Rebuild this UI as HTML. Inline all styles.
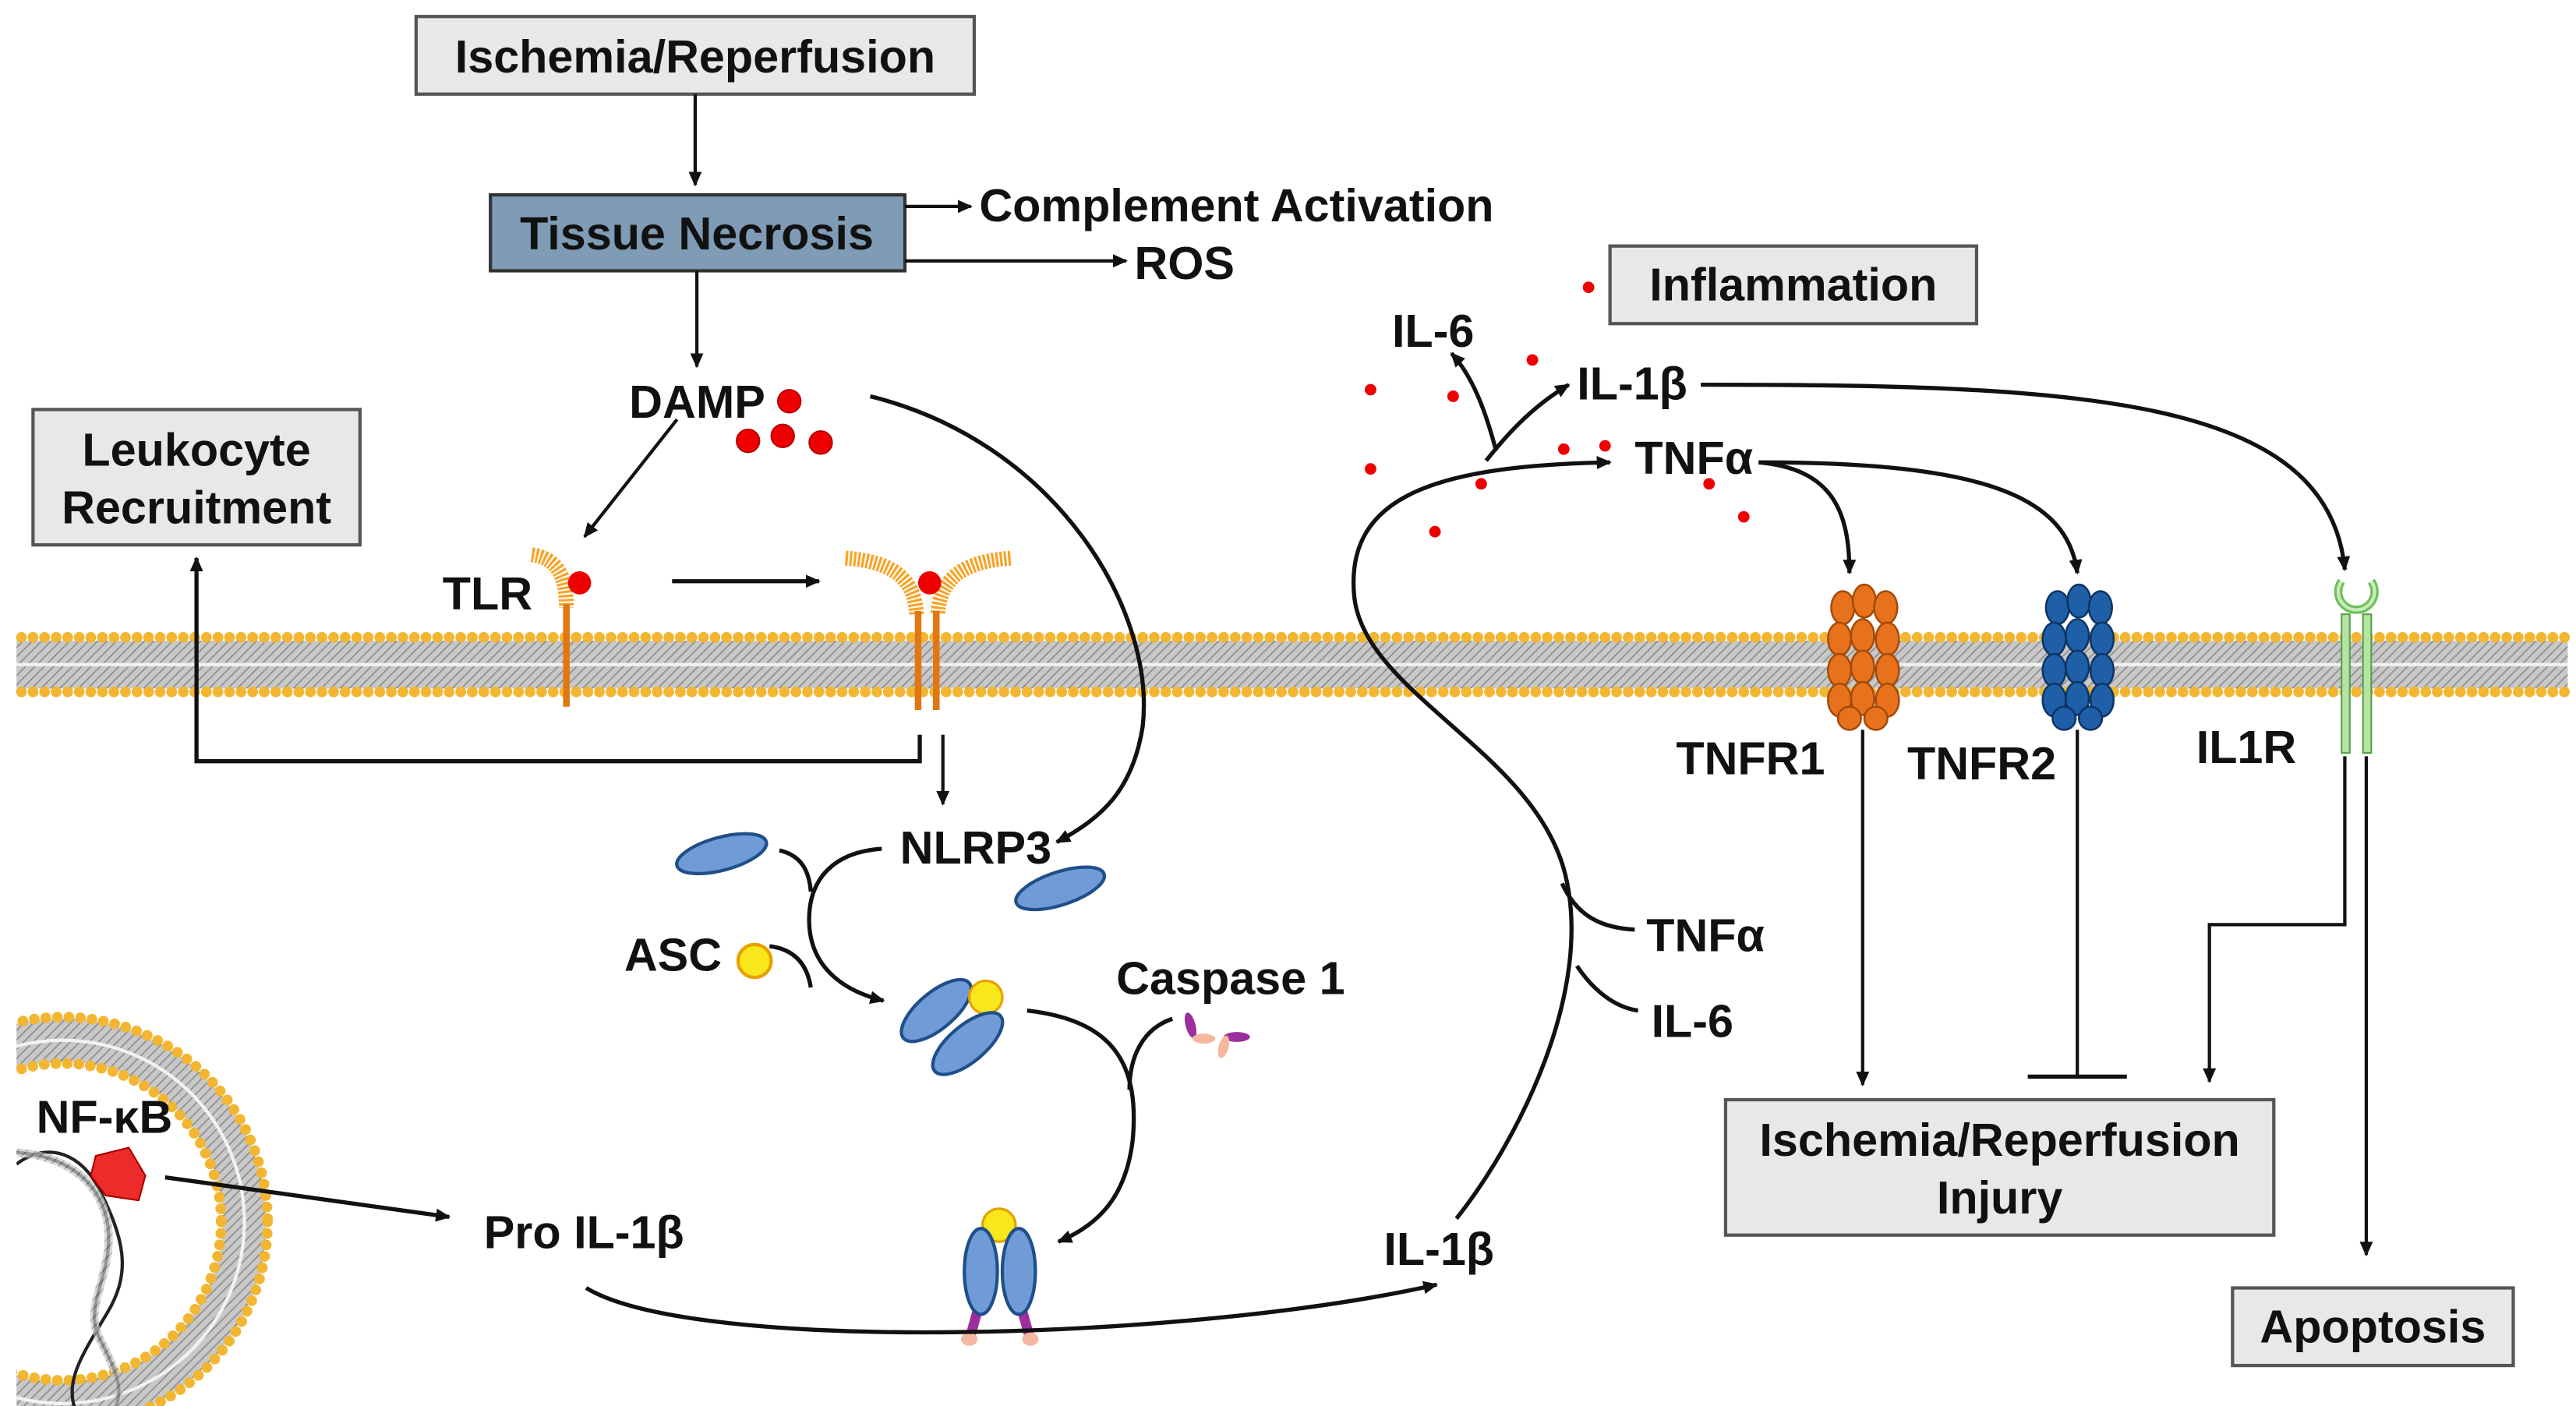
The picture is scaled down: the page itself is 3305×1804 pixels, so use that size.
<!DOCTYPE html>
<html><head><meta charset="utf-8"><style>
html,body{margin:0;padding:0;background:#fff;}
svg{display:block;}
text{font-family:"Liberation Sans",Arial,sans-serif;font-weight:bold;font-size:28px;fill:#111;}
</style></head><body>
<svg width="3305" height="1804" viewBox="0 0 1560 851.5" preserveAspectRatio="none" xmlns="http://www.w3.org/2000/svg">
<defs>
<marker id="ah" markerWidth="10" markerHeight="10" refX="8" refY="5" orient="auto" markerUnits="userSpaceOnUse"><path d="M0,1 L9,5 L0,9 Z" fill="#111"/></marker>
<pattern id="hatch" width="4" height="4" patternUnits="userSpaceOnUse" patternTransform="rotate(45)">
<rect width="4" height="4" fill="#c8c8c8"/><line x1="0" y1="0" x2="0" y2="4" stroke="#8a8a8a" stroke-width="1.5"/>
</pattern>
<clipPath id="nclip"><rect x="10" y="600" width="300" height="252"/></clipPath>
</defs>
<rect width="1560" height="852" fill="#fff"/>

<!-- membrane -->
<rect x="10" y="388" width="1545" height="29" fill="url(#hatch)"/>
<line x1="10" y1="402.5" x2="1555" y2="402.5" stroke="#f2f2f2" stroke-width="2"/>
<line x1="13" y1="386" x2="1555" y2="386" stroke="#f2b632" stroke-width="6.5" stroke-dasharray="0 7" stroke-linecap="round"/>
<line x1="13" y1="419" x2="1555" y2="419" stroke="#f2b632" stroke-width="6.5" stroke-dasharray="0 7" stroke-linecap="round"/>

<!-- nucleus -->
<g clip-path="url(#nclip)">
<circle cx="38" cy="740" r="110" fill="none" stroke="url(#hatch)" stroke-width="26"/>
<circle cx="38" cy="740" r="110" fill="none" stroke="#f2f2f2" stroke-width="2"/>
<circle cx="38" cy="740" r="124" fill="none" stroke="#f2b632" stroke-width="6.5" stroke-dasharray="0 7" stroke-linecap="round"/>
<circle cx="38" cy="740" r="96" fill="none" stroke="#f2b632" stroke-width="6.5" stroke-dasharray="0 7" stroke-linecap="round"/>
<path d="M10,698 C40,700 60,715 65,740 C70,770 50,790 60,810 C70,830 75,840 70,852" fill="none" stroke="#222" stroke-width="2"/>
<path d="M10,705 C30,690 50,700 60,720 C75,750 80,770 65,795 C50,820 40,835 45,852" fill="none" stroke="#222" stroke-width="2"/>
<path d="M10,698 C40,700 60,715 65,740 C70,770 50,790 60,810 C70,830 75,840 70,852" fill="none" stroke="url(#hatch)" stroke-width="5" opacity="0.7"/>
</g>
<polygon points="58,700 78,695 88,712 84,727 64,724 55,712" fill="#ee2b2b" stroke="#a00" stroke-width="1"/>
<text x="22" y="686">NF-κB</text>
<line x1="100" y1="713" x2="272" y2="737" stroke="#111" stroke-width="2.5" marker-end="url(#ah)"/>
<text x="293" y="756">Pro IL-1β</text>

<!-- boxes top -->
<rect x="252" y="10" width="338" height="47" fill="#e8e8e8" stroke="#555" stroke-width="2"/>
<text x="421" y="44" text-anchor="middle">Ischemia/Reperfusion</text>
<line x1="421" y1="57" x2="421" y2="112" stroke="#111" stroke-width="2" marker-end="url(#ah)"/>
<rect x="297" y="118" width="251" height="46" fill="#7f9bb5" stroke="#333" stroke-width="2"/>
<text x="422" y="151" text-anchor="middle">Tissue Necrosis</text>
<line x1="548" y1="125" x2="588" y2="125" stroke="#111" stroke-width="2" marker-end="url(#ah)"/>
<text x="593" y="134">Complement Activation</text>
<line x1="548" y1="158" x2="682" y2="158" stroke="#111" stroke-width="2" marker-end="url(#ah)"/>
<text x="687" y="169">ROS</text>
<line x1="422" y1="164" x2="422" y2="222" stroke="#111" stroke-width="2" marker-end="url(#ah)"/>

<text x="381" y="253">DAMP</text>
<g fill="#e00" stroke="#a00" stroke-width="0.8">
<circle cx="478" cy="243" r="7"/><circle cx="453" cy="267" r="7"/><circle cx="474" cy="264" r="7"/><circle cx="497" cy="268" r="7"/>
</g>
<line x1="410" y1="254" x2="354" y2="325" stroke="#111" stroke-width="2" marker-end="url(#ah)"/>

<rect x="20" y="248" width="198" height="82" fill="#e8e8e8" stroke="#555" stroke-width="2"/>
<text x="119" y="282" text-anchor="middle">Leukocyte</text>
<text x="119" y="317" text-anchor="middle">Recruitment</text>

<!-- TLR -->
<text x="268" y="369">TLR</text>
<path d="M322,336 C338,338 343,350 343,368" fill="none" stroke="#f7a428" stroke-width="9" stroke-dasharray="1.5 1"/>
<line x1="343" y1="366" x2="343" y2="428" stroke="#e07712" stroke-width="4"/>
<circle cx="351" cy="353" r="7" fill="#e00"/>
<line x1="407" y1="352" x2="496" y2="352" stroke="#111" stroke-width="2.5" marker-end="url(#ah)"/>
<path d="M512,338 C540,340 554,350 555,372" fill="none" stroke="#f7a428" stroke-width="9" stroke-dasharray="1.5 1"/>
<path d="M612,338 C584,340 569,350 568,372" fill="none" stroke="#f7a428" stroke-width="9" stroke-dasharray="1.5 1"/>
<line x1="556" y1="370" x2="556" y2="430" stroke="#e07712" stroke-width="4"/>
<line x1="567" y1="370" x2="567" y2="430" stroke="#e07712" stroke-width="4"/>
<circle cx="563" cy="353" r="7" fill="#e00"/>

<polyline points="557,445 557,461 119,461 119,338" fill="none" stroke="#111" stroke-width="2.5" marker-end="url(#ah)"/>
<line x1="571" y1="445" x2="571" y2="487" stroke="#111" stroke-width="2" marker-end="url(#ah)"/>
<path d="M527,240 C640,268 700,370 692,440 C686,478 668,495 640,510" fill="none" stroke="#111" stroke-width="2.5" marker-end="url(#ah)"/>

<text x="545" y="523">NLRP3</text>
<ellipse cx="437" cy="517" rx="28" ry="10" transform="rotate(-15 437 517)" fill="#6f9bd6" stroke="#1f4f8a" stroke-width="2"/>
<ellipse cx="642" cy="538" rx="28" ry="10" transform="rotate(-18 642 538)" fill="#6f9bd6" stroke="#1f4f8a" stroke-width="2"/>
<path d="M472,515 C485,518 490,527 491,540" fill="none" stroke="#111" stroke-width="2.5"/>
<path d="M534,514 C505,516 490,532 490,557 C490,585 510,600 535,606" fill="none" stroke="#111" stroke-width="2.5" marker-end="url(#ah)"/>
<path d="M466,573 C482,575 489,585 491,598" fill="none" stroke="#111" stroke-width="2.5"/>
<text x="378" y="588">ASC</text>
<circle cx="457" cy="582" r="10" fill="#f8e71c" stroke="#e8a000" stroke-width="2"/>

<ellipse cx="567" cy="612" rx="26" ry="11" transform="rotate(-40 567 612)" fill="#6f9bd6" stroke="#1f4f8a" stroke-width="2"/>
<circle cx="597" cy="604" r="10" fill="#f8e71c" stroke="#e8a000" stroke-width="1.5"/>
<ellipse cx="586" cy="632" rx="26" ry="11" transform="rotate(-40 586 632)" fill="#6f9bd6" stroke="#1f4f8a" stroke-width="2"/>

<text x="676" y="602">Caspase 1</text>
<g>
<ellipse cx="721" cy="621" rx="3" ry="8" transform="rotate(-15 721 621)" fill="#9b2f9b"/>
<ellipse cx="729" cy="629" rx="7" ry="3" fill="#f4b8a0"/>
<ellipse cx="749" cy="628" rx="8" ry="3" fill="#9b2f9b"/>
<ellipse cx="741" cy="634" rx="3" ry="7" transform="rotate(15 741 634)" fill="#f4b8a0"/>
</g>
<path d="M622,612 C675,618 690,645 686,690 C682,725 665,742 641,752" fill="none" stroke="#111" stroke-width="2.5" marker-end="url(#ah)"/>
<path d="M710,617 C692,623 684,640 684,660" fill="none" stroke="#111" stroke-width="2.5"/>

<!-- inflammasome -->
<path d="M593,790 L588,808 M618,790 L623,808" stroke="#9b2f9b" stroke-width="6"/>
<ellipse cx="587" cy="811" rx="5" ry="4" fill="#f4b8a0"/>
<ellipse cx="624" cy="811" rx="5" ry="4" fill="#f4b8a0"/>
<circle cx="605" cy="742" r="10" fill="#f8e71c" stroke="#e8a000" stroke-width="1.5"/>
<ellipse cx="594" cy="770" rx="10" ry="26" fill="#6f9bd6" stroke="#1f4f8a" stroke-width="2"/>
<ellipse cx="617" cy="770" rx="10" ry="26" fill="#6f9bd6" stroke="#1f4f8a" stroke-width="2"/>

<path d="M355,780 C420,820 720,812 870,778" fill="none" stroke="#111" stroke-width="2.5" marker-end="url(#ah)"/>
<text x="838" y="766">IL-1β</text>

<!-- big curve -->
<path d="M882,738 C920,690 965,600 948,530 C930,455 825,420 820,360 C815,300 870,282 975,280" fill="none" stroke="#111" stroke-width="2.5" marker-end="url(#ah)"/>
<path d="M900,279 C915,260 930,245 950,233" fill="none" stroke="#111" stroke-width="2.5" marker-end="url(#ah)"/>
<path d="M906,273 C900,250 892,228 879,214" fill="none" stroke="#111" stroke-width="2.5" marker-end="url(#ah)"/>
<path d="M946,535 C955,555 970,562 990,563" fill="none" stroke="#111" stroke-width="2.5"/>
<path d="M955,585 C965,600 978,610 992,612" fill="none" stroke="#111" stroke-width="2.5"/>
<text x="997" y="576">TNFα</text>
<text x="1000" y="628">IL-6</text>

<g fill="#e00">
<circle cx="830" cy="236" r="3.5"/><circle cx="880" cy="240" r="3.5"/><circle cx="928" cy="218" r="3.5"/>
<circle cx="830" cy="284" r="3.5"/><circle cx="897" cy="293" r="3.5"/><circle cx="869" cy="322" r="3.5"/>
<circle cx="947" cy="272" r="3.5"/><circle cx="972" cy="270" r="3.5"/><circle cx="1035" cy="293" r="3.5"/>
<circle cx="1056" cy="313" r="3.5"/><circle cx="962" cy="174" r="3.5"/>
</g>
<text x="843" y="210">IL-6</text>
<text x="955" y="242">IL-1β</text>
<text x="990" y="287">TNFα</text>

<rect x="975" y="149" width="222" height="47" fill="#e8e8e8" stroke="#555" stroke-width="2"/>
<text x="1086" y="182" text-anchor="middle">Inflammation</text>

<path d="M1030,233 C1260,233 1410,240 1420,345" fill="none" stroke="#111" stroke-width="2.5" marker-end="url(#ah)"/>
<path d="M1065,280 C1110,284 1120,310 1120,347" fill="none" stroke="#111" stroke-width="2.5" marker-end="url(#ah)"/>
<path d="M1065,280 C1200,280 1252,300 1258,347" fill="none" stroke="#111" stroke-width="2.5" marker-end="url(#ah)"/>

<!-- TNFR1 -->
<g fill="#e8721c" stroke="#a54a08" stroke-width="1.2">
<ellipse cx="1116" cy="368" rx="7" ry="10"/><ellipse cx="1129" cy="364" rx="7" ry="10"/><ellipse cx="1142" cy="368" rx="7" ry="10"/>
<ellipse cx="1114" cy="387" rx="7" ry="10"/><ellipse cx="1128" cy="385" rx="7" ry="10"/><ellipse cx="1143" cy="387" rx="7" ry="10"/>
<ellipse cx="1114" cy="406" rx="7" ry="10"/><ellipse cx="1128" cy="404" rx="7" ry="10"/><ellipse cx="1143" cy="406" rx="7" ry="10"/>
<ellipse cx="1114" cy="424" rx="7" ry="10"/><ellipse cx="1128" cy="423" rx="7" ry="10"/><ellipse cx="1143" cy="424" rx="7" ry="10"/>
<ellipse cx="1120" cy="435" rx="7" ry="7"/><ellipse cx="1136" cy="435" rx="7" ry="7"/>
</g>
<!-- TNFR2 -->
<g fill="#1f5fa8" stroke="#0d3566" stroke-width="1.2">
<ellipse cx="1246" cy="368" rx="7" ry="10"/><ellipse cx="1259" cy="364" rx="7" ry="10"/><ellipse cx="1272" cy="368" rx="7" ry="10"/>
<ellipse cx="1244" cy="387" rx="7" ry="10"/><ellipse cx="1258" cy="385" rx="7" ry="10"/><ellipse cx="1273" cy="387" rx="7" ry="10"/>
<ellipse cx="1244" cy="406" rx="7" ry="10"/><ellipse cx="1258" cy="404" rx="7" ry="10"/><ellipse cx="1273" cy="406" rx="7" ry="10"/>
<ellipse cx="1244" cy="424" rx="7" ry="10"/><ellipse cx="1258" cy="423" rx="7" ry="10"/><ellipse cx="1273" cy="424" rx="7" ry="10"/>
<ellipse cx="1250" cy="435" rx="7" ry="7"/><ellipse cx="1266" cy="435" rx="7" ry="7"/>
</g>
<!-- IL1R -->
<path d="M1418,352 A11,11 0 1 0 1436,352" fill="none" stroke="#6fbf5a" stroke-width="5"/>
<path d="M1418,352 A11,11 0 1 0 1436,352" fill="none" stroke="#c8ecb8" stroke-width="2"/>
<rect x="1418" y="372" width="5" height="84" fill="#b6e3a4" stroke="#5aa046" stroke-width="1"/>
<rect x="1431" y="372" width="5" height="84" fill="#b6e3a4" stroke="#5aa046" stroke-width="1"/>

<text x="1015" y="469">TNFR1</text>
<text x="1155" y="472">TNFR2</text>
<text x="1330" y="462">IL1R</text>

<line x1="1128" y1="442" x2="1128" y2="657" stroke="#111" stroke-width="2" marker-end="url(#ah)"/>
<line x1="1258" y1="442" x2="1258" y2="651" stroke="#111" stroke-width="2"/>
<line x1="1228" y1="652" x2="1288" y2="652" stroke="#111" stroke-width="2.5"/>
<polyline points="1420,458 1420,560 1338,560 1338,655" fill="none" stroke="#111" stroke-width="2" marker-end="url(#ah)"/>
<line x1="1433" y1="458" x2="1433" y2="760" stroke="#111" stroke-width="2" marker-end="url(#ah)"/>

<rect x="1045" y="666" width="332" height="82" fill="#e8e8e8" stroke="#555" stroke-width="2"/>
<text x="1211" y="700" text-anchor="middle">Ischemia/Reperfusion</text>
<text x="1211" y="735" text-anchor="middle">Injury</text>
<rect x="1352" y="780" width="170" height="47" fill="#e8e8e8" stroke="#555" stroke-width="2"/>
<text x="1437" y="813" text-anchor="middle">Apoptosis</text>
</svg>
</body></html>
